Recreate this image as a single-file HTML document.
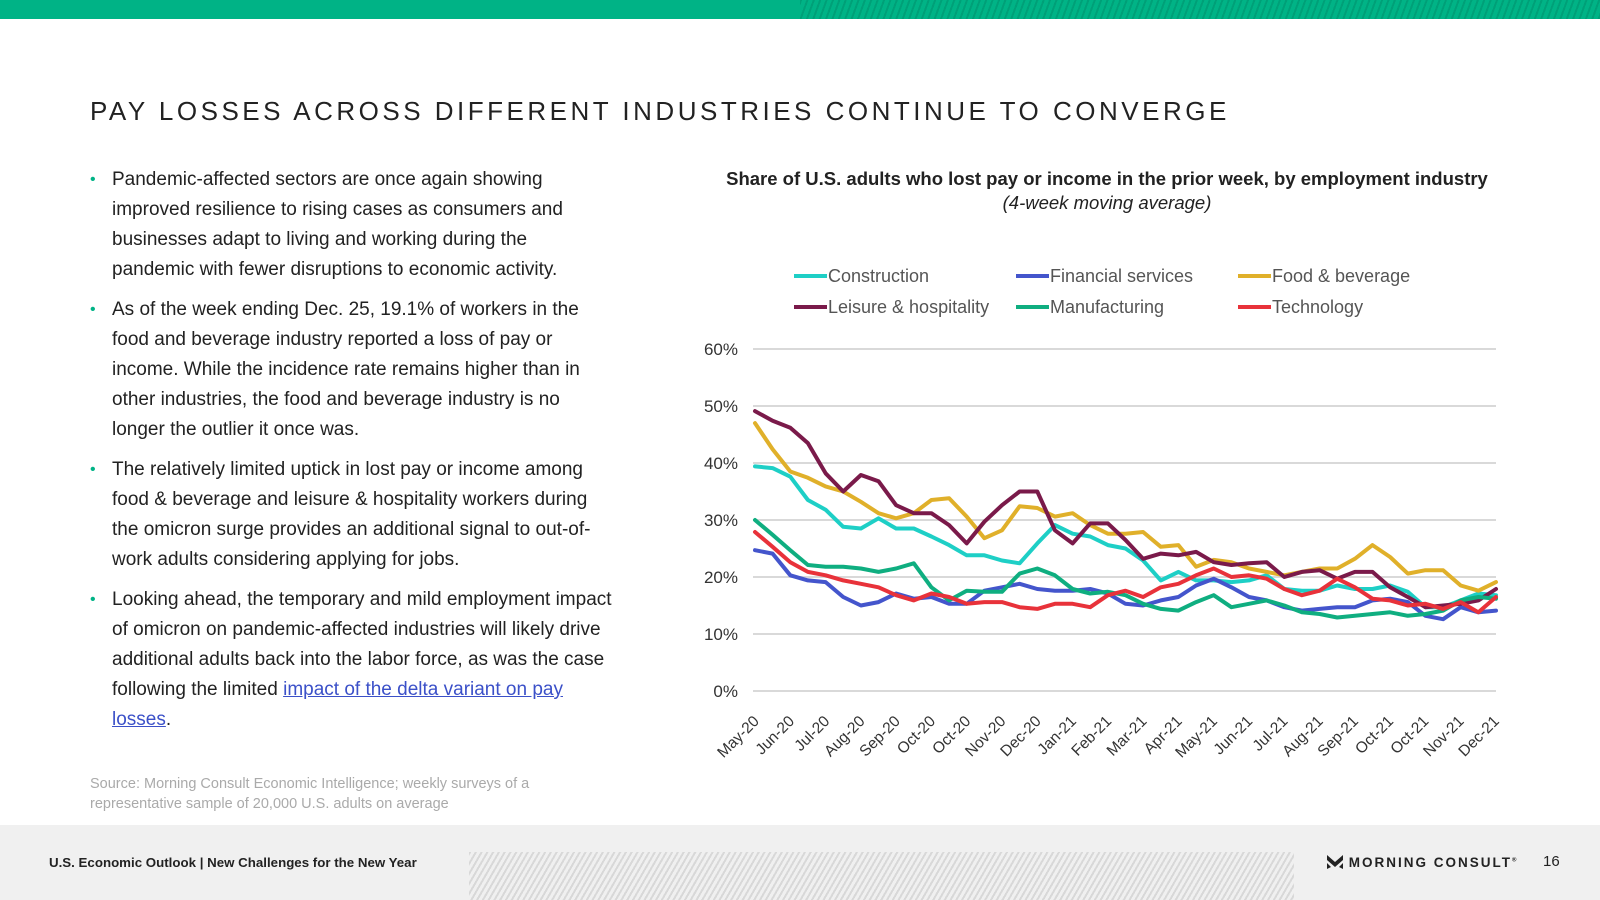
<!DOCTYPE html>
<html><head><meta charset="utf-8">
<style>
body{margin:0;width:1600px;height:900px;position:relative;overflow:hidden;background:#fff;font-family:"Liberation Sans",sans-serif;}
.abs{position:absolute;}
#topbar{left:0;top:0;width:1600px;height:19px;background:#00b386;}
#tophatch{left:800px;top:0;width:800px;height:19px;background:repeating-linear-gradient(110deg,#00a078 0 2px,#00b386 2px 6px);}
#title{left:90px;top:96px;font-size:26px;letter-spacing:3.5px;color:#222;white-space:nowrap;}
ul{position:absolute;left:90px;top:165px;width:522px;margin:0;padding:0;list-style:none;font-size:19px;line-height:30px;color:#222;}
li{position:relative;padding-left:22px;margin-bottom:10px;}
li:before{content:"•";position:absolute;left:0;color:#00b386;font-size:16px;}
a{color:#3b50c8;}
#source{left:90px;top:774px;font-size:14.5px;line-height:20px;color:#aaa;width:520px;}
#footer{left:0;top:825px;width:1600px;height:75px;background:#f0f0f0;}
#fhatch{left:469px;top:852px;width:825px;height:48px;background:repeating-linear-gradient(120deg,#d6d6d6 0 2px,#f0f0f0 2px 5px);opacity:.9;}
#ftext{left:49px;top:855px;font-size:13.3px;font-weight:bold;color:#222;}
#logo{left:1327px;top:855px;font-size:13.5px;font-weight:bold;letter-spacing:2px;color:#222;}
#pnum{left:1543px;top:853px;font-size:15px;color:#222;}
</style></head><body>
<div class="abs" id="topbar"></div>
<div class="abs" id="tophatch"></div>
<div class="abs" id="title">PAY LOSSES ACROSS DIFFERENT INDUSTRIES CONTINUE TO CONVERGE</div>
<ul>
<li>Pandemic-affected sectors are once again showing improved resilience to rising cases as consumers and businesses adapt to living and working during the pandemic with fewer disruptions to economic activity.</li>
<li>As of the week ending Dec. 25, 19.1% of workers in the food and beverage industry reported a loss of pay or income. While the incidence rate remains higher than in other industries, the food and beverage industry is no longer the outlier it once was.</li>
<li>The relatively limited uptick in lost pay or income among food &amp; beverage and leisure &amp; hospitality workers during the omicron surge provides an additional signal to out-of-work adults considering applying for jobs.</li>
<li>Looking ahead, the temporary and mild employment impact of omicron on pandemic-affected industries will likely drive additional adults back into the labor force, as was the case following the limited <a href="#">impact of the delta variant on pay losses</a>.</li>
</ul>
<div class="abs" id="source">Source: Morning Consult Economic Intelligence; weekly surveys of a representative sample of 20,000 U.S. adults on average</div>
<div class="abs" id="footer"></div>
<div class="abs" id="fhatch"></div>
<div class="abs" id="ftext">U.S. Economic Outlook | New Challenges for the New Year</div>
<div class="abs" id="logo"><svg width="16" height="14" viewBox="0 0 16 14" style="vertical-align:-2px"><path d="M0 0 L8 7 L16 0 L16 5 L8 12 L0 5Z M0 8 L4 12 L0 14Z M16 8 L12 12 L16 14Z" fill="#222"/></svg> MORNING CONSULT<sup style="font-size:6px">®</sup></div>
<div class="abs" id="pnum">16</div>

<svg class="abs" style="left:0;top:0" width="1600" height="900" id="chart"></svg>
<script>
const categories=["May-20","Jun-20","Jul-20","Aug-20","Sep-20","Oct-20","Oct-20","Nov-20","Dec-20","Jan-21","Feb-21","Mar-21","Apr-21","May-21","Jun-21","Jul-21","Aug-21","Sep-21","Oct-21","Oct-21","Nov-21","Dec-21"];
const yTicks=[0,10,20,30,40,50,60];
const seriesNames=["Construction","Financial services","Food & beverage","Leisure & hospitality","Manufacturing","Technology"];
const construction=[39.4,39.1,37.6,33.5,31.8,28.8,28.5,30.3,28.5,28.5,27.1,25.6,23.8,23.8,22.9,22.4,25.9,29.1,27.6,27.1,25.6,25,22.9,19.4,20.9,19.4,19.4,19.1,19.4,20.3,17.9,17.6,17.6,18.5,17.9,17.9,18.5,17.4,14.7,14.7,15.9,17.1,16.8];
const financial=[24.7,24.1,20.3,19.4,19.1,16.5,15,15.6,17.1,16.2,16.5,15.3,15.3,17.6,18.2,18.8,17.9,17.6,17.6,17.9,17.1,15.3,15,15.9,16.5,18.5,19.7,18.2,16.5,15.9,14.7,14.1,14.4,14.7,14.7,15.9,16.2,15.6,13.2,12.6,14.7,13.8,14.1];
const food=[47,42.4,38.5,37.4,35.9,35,33.2,31.2,30.3,31.2,33.5,33.8,30.6,26.8,28.2,32.4,32.1,30.6,31.2,29.1,27.6,27.6,27.9,25.3,25.6,21.8,23,22.6,21.5,20.9,20.3,20.9,21.5,21.5,23.2,25.6,23.5,20.6,21.2,21.2,18.5,17.6,19.1];
const leisure=[49.1,47.4,46.2,43.5,38.2,35,37.9,36.8,32.6,31.2,31.2,29.1,25.9,29.7,32.6,35,35,28.2,25.9,29.4,29.4,26.5,23.2,24.1,23.8,24.4,22.6,22.1,22.4,22.6,20,20.9,21.2,19.7,20.9,20.9,18.2,16.5,14.7,15,15.3,15.9,17.9];
const manufacturing=[30,27.4,24.7,22.1,21.8,21.8,21.5,20.9,21.5,22.4,18.2,15.9,17.6,17.4,17.4,20.6,21.5,20.3,17.9,17.1,17.4,16.8,15.3,14.4,14.1,15.6,16.8,14.7,15.3,15.9,15,13.8,13.5,12.9,13.2,13.5,13.8,13.2,13.5,14.1,15.9,16.5,16.2];
const technology=[27.9,25.3,22.6,20.9,20.3,19.4,18.8,18.2,16.8,15.9,17.1,16.5,15.3,15.6,15.6,14.7,14.4,15.3,15.3,14.7,16.8,17.6,16.5,18.2,18.8,20.3,21.5,20,20.3,19.7,17.9,16.8,17.6,19.7,18.2,16.2,15.9,15,15.3,14.4,15.6,13.8,16.5];
const seriesData=[construction,financial,food,leisure,manufacturing,technology];
const colors=["#1ecfc6","#4455cc","#e0b02a","#7a1a4a","#0fae80","#e8323a"];
const NS="http://www.w3.org/2000/svg";
const svg=document.getElementById('chart');
const X0=755,X1=1496,Y0=691,Y60=349;
function yScale(v){return Y0-(v/60)*(Y0-Y60);}
function xScale(i,n){return X0+(X1-X0)*i/(n-1);}
function mk(tag,attrs,parent){const e=document.createElementNS(NS,tag);for(const k in attrs)e.setAttribute(k,attrs[k]);(parent||svg).appendChild(e);return e;}
let t=mk('text',{x:1107,y:185,'text-anchor':'middle','font-size':18.5,'font-weight':'bold',fill:'#222','font-family':'Liberation Sans, sans-serif'});
t.textContent="Share of U.S. adults who lost pay or income in the prior week, by employment industry";


t=mk('text',{x:1107,y:209,'text-anchor':'middle','font-size':18.5,'font-style':'italic',fill:'#222','font-family':'Liberation Sans, sans-serif'});
t.textContent="(4-week moving average)";


yTicks.forEach(v=>{
  const g=mk('line',{x1:753,x2:1496,y1:yScale(v),y2:yScale(v),stroke:'#d9d9d9','stroke-width':2});
  
  
  const l=mk('text',{x:738,y:yScale(v)+6,'text-anchor':'end','font-size':17,fill:'#333','font-family':'Liberation Sans, sans-serif'});
  l.textContent=v+'%';
  
  
});
categories.forEach((c,i)=>{
  const x=760+(1500-760)*i/(categories.length-1), y=722;
  const l=mk('text',{x:x,y:y,'text-anchor':'end','font-size':15.5,fill:'#333','font-family':'Liberation Sans, sans-serif',transform:`rotate(-45 ${x} ${y})`});
  l.textContent=c;
  
  
});
seriesData.forEach((d,s)=>{
  const pts=d.map((v,i)=>xScale(i,d.length).toFixed(1)+','+yScale(v).toFixed(1)).join(' ');
  const p=mk('polyline',{points:pts,fill:'none',stroke:colors[s],'stroke-width':4,'stroke-linejoin':'round','stroke-linecap':'round'});
  
  
});
const order=[0,1,2,3,4,5];
const legX=[794,1016,1238],legY=[276,307];
order.forEach((s,k)=>{
  const x=legX[k%3],y=legY[Math.floor(k/3)];
  const ln=mk('line',{x1:x,x2:x+33,y1:y,y2:y,stroke:colors[s],'stroke-width':4});
  
  
  const l=mk('text',{x:x+34,y:y+6,'font-size':18,fill:'#555','font-family':'Liberation Sans, sans-serif'});
  l.textContent=seriesNames[s];
  
  
});
</script>
</body></html>
